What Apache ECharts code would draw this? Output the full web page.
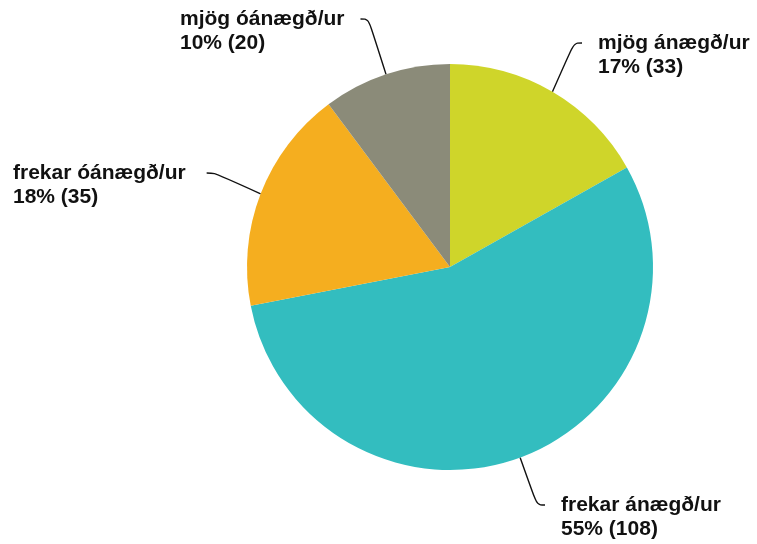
<!DOCTYPE html>
<html>
<head>
<meta charset="utf-8">
<script src="https://cdn.jsdelivr.net/npm/echarts@6/dist/echarts.min.js"></script>
<style>
html, body { margin: 0; padding: 0; background: #fff; }
#main { width: 757px; height: 544px; }
</style>
</head>
<body>
<div id="main"></div>
<script>
var categories = ['mjög ánægð/ur', 'frekar ánægð/ur', 'frekar óánægð/ur', 'mjög óánægð/ur'];
var counts = [33, 108, 35, 20];
var percents = [17, 55, 18, 10];
var colors = ['#cfd52a', '#33bdbf', '#f5ae1f', '#8b8b79'];

// where each label text starts (left x, y of the first text line)
var labelSpots = [
    { x: 598, y: 43 },
    { x: 561, y: 505 },
    { x: 13, y: 173 },
    { x: 180, y: 19 }
];
var gap = 16;

var myChart = echarts.init(document.getElementById('main'));
option = {
    animation: false,
    series: [
        {
            type: 'pie',
            center: [450, 267],
            radius: 203,
            startAngle: 90,
            clockwise: true,
            label: {
                show: true,
                color: '#111',
                fontFamily: 'Liberation Sans, Arial, sans-serif',
                fontWeight: 'bold',
                fontSize: 21,
                lineHeight: 24,
                overflow: 'none',
                padding: [0, gap],
                // empty first line keeps the line pointing at the name row
                formatter: function (p) {
                    return ' \n' + p.name + '\n' + percents[p.dataIndex] + '% (' + p.value + ')';
                }
            },
            labelLine: {
                show: true,
                length: 30,
                length2: 8,
                smooth: 0.4,
                lineStyle: { color: '#111', width: 1.4 }
            },
            labelLayout: function (params) {
                var s = labelSpots[params.dataIndex];
                return { x: s.x - gap, y: s.y, align: 'left', verticalAlign: 'middle' };
            },
            data: categories.map(function (c, i) {
                return { name: c, value: counts[i], itemStyle: { color: colors[i] } };
            })
        }
    ]
};
myChart.setOption(option);
</script>
</body>
</html>
